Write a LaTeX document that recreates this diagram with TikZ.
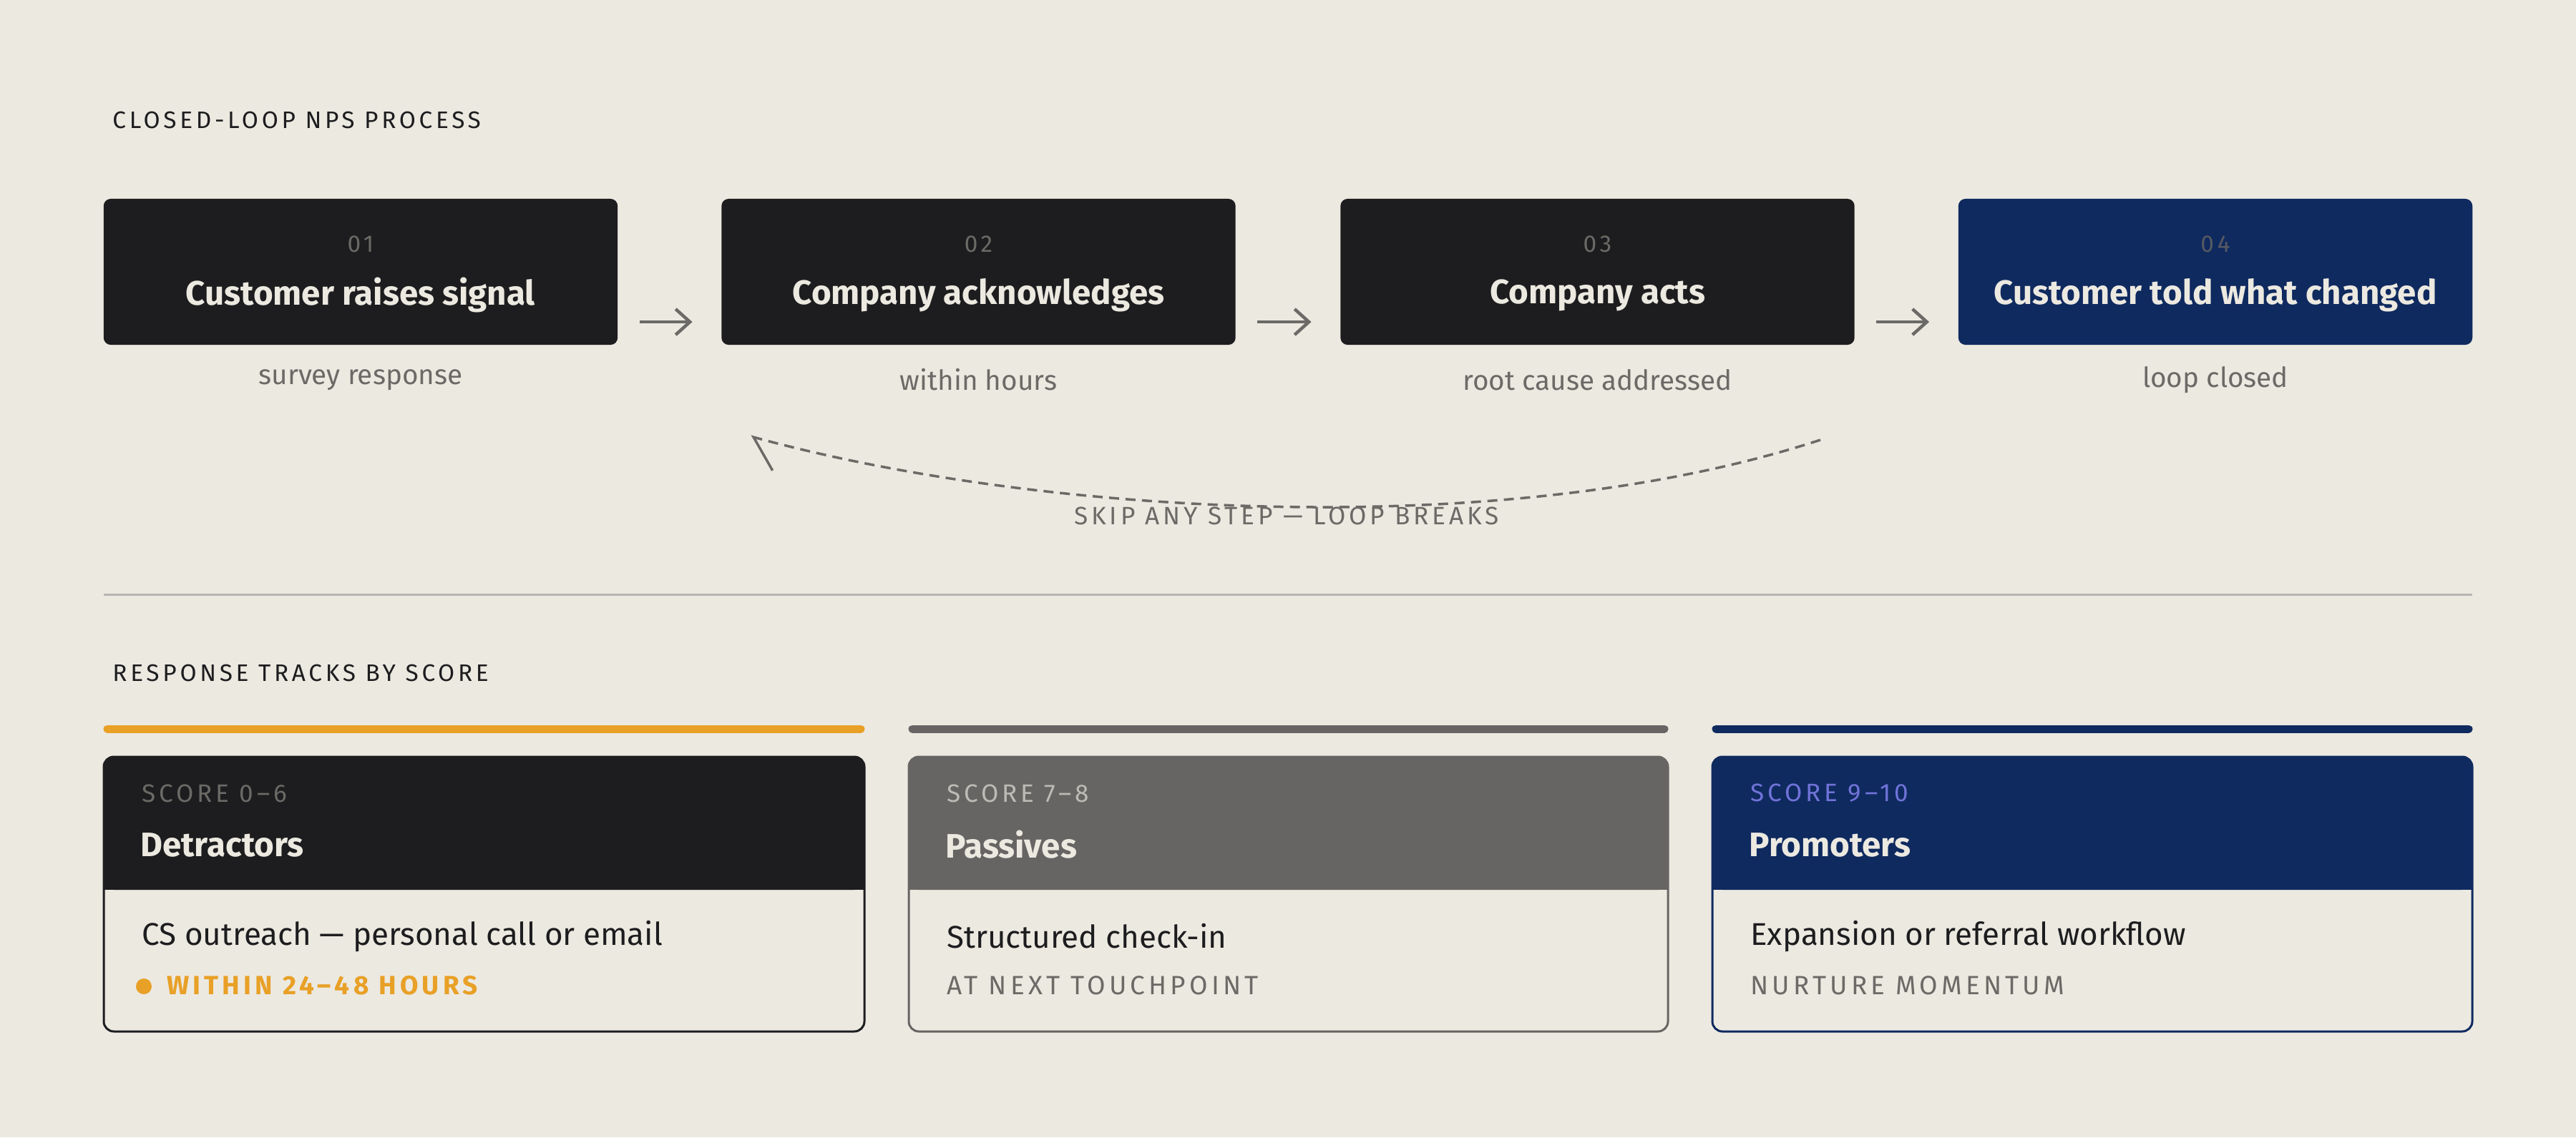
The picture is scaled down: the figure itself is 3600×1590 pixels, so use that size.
\documentclass[tikz,border=0pt]{standalone}
\usepackage{fontspec}
\setmainfont{Fira Sans}
\usetikzlibrary{arrows.meta,positioning}
\definecolor{paper}{HTML}{ECE9E1}
\definecolor{ink}{HTML}{1D1D1F}
\definecolor{navy}{HTML}{0F2A5F}
\definecolor{amber}{HTML}{E8A026}
\definecolor{slate}{HTML}{666563}
\definecolor{muted}{HTML}{6B6A66}
\colorlet{passlab}{paper!65!slate}
\colorlet{promlab}{blue!45!paper!85!navy}
\newcommand{\spaced}[1]{{\addfontfeatures{LetterSpace=14}#1}}
\tikzset{
  stagebox/.style={rounded corners=0.1cm,minimum width=7.18cm,minimum height=2.04cm,fill=ink},
  num/.style={text=muted,font=\fontsize{9.5}{11}\selectfont},
  ttl/.style={text=paper,font=\fontsize{13.5}{16}\selectfont\bfseries},
  sub/.style={text=muted,font=\fontsize{11}{13}\selectfont},
  head/.style={anchor=west,text=ink,font=\fontsize{9.5}{11}\selectfont},
  flow/.style={-{Straight Barb[length=0.2cm,width=0.36cm]},muted,line width=0.045cm},
}
\begin{document}
\begin{tikzpicture}[x=0.01cm,y=-0.01cm]
\fill[paper] (0,0) rectangle (3600,1590);
\node[head] (phead) at (145,168) {\spaced{CLOSED-LOOP NPS PROCESS}};
% steps
\node[stagebox] (s1) at (504,380) {};
\node[stagebox] (s2) at (1367.5,380) {};
\node[stagebox] (s3) at (2232.5,380) {};
\node[stagebox,fill=navy] (s4) at (3096,380) {};
\node[num] at (504,341) {\spaced{01}};
\node[num] at (1367.5,341) {\spaced{02}};
\node[num] at (2232.5,341) {\spaced{03}};
\node[num,text=slate!80!navy] at (3096,341) {\spaced{04}};
\node[ttl] (t1) at (504,413) {Customer raises signal};
\node[ttl] (t2) at (1367.5,413) {Company acknowledges};
\node[ttl] (t3) at (2232.5,413) {Company acts};
\node[ttl] (t4) at (3096,413) {Customer told what changed};
\node[sub] (d1) at (504,531) {survey response};
\node[sub] (d2) at (1367.5,531) {within hours};
\node[sub] (d3) at (2232.5,531) {root cause addressed};
\node[sub] (d4) at (3096,531) {loop closed};
\draw[flow] ([xshift=0.3cm,yshift=-0.7cm]s1.east) -- ([xshift=-0.4cm,yshift=-0.7cm]s2.west);
\draw[flow] ([xshift=0.3cm,yshift=-0.7cm]s2.east) -- ([xshift=-0.4cm,yshift=-0.7cm]s3.west);
\draw[flow] ([xshift=0.3cm,yshift=-0.7cm]s3.east) -- ([xshift=-0.4cm,yshift=-0.7cm]s4.west);
% loop back
\coordinate (lb1) at (2544,615);
\coordinate (lb2) at (1049,610);
\draw[muted,line width=0.035cm,dash pattern=on 0.14cm off 0.09cm,-{Straight Barb[left,length=0.38cm,width=0.76cm]}]
  (lb1) .. controls (2100,760) and (1450,720) .. (lb2);
\node[sub,font=\fontsize{10}{12}\selectfont] (skip) at (1798,721) {\spaced{SKIP ANY STEP — LOOP BREAKS}};
\draw[muted!50,line width=0.03cm] (145,831) -- (3455,831);
\node[head] (thead) at (145,941) {\spaced{RESPONSE TRACKS BY SCORE}};
% tracks
\foreach \xa/\xb/\col/\bar/\lab/\labc/\name/\body/\note/\notec/\nx [count=\i] in {
  145/1208/ink/amber/SCORE 0–6/muted/Detractors/CS outreach — personal call or email/\textbf{WITHIN 24–48 HOURS}/amber/76,
  1270/2331/slate/slate/SCORE 7–8/passlab/Passives/Structured check-in/AT NEXT TOUCHPOINT/muted/41,
  2393/3455/navy/navy/SCORE 9–10/promlab/Promoters/Expansion or referral workflow/NURTURE MOMENTUM/muted/41}{
  \draw[line width=0.11cm,line cap=round,draw=\bar] (\xa+5,1019) -- (\xb-5,1019);
  \fill[\col,rounded corners=0.14cm] (\xa,1058) rectangle (\xb,1244);
  \fill[\col] (\xa,1200) rectangle (\xb,1244);
  \draw[\col,line width=0.03cm,rounded corners=0.14cm] (\xa,1058) rectangle (\xb,1442);
  \node[anchor=west,text=\labc,font=\fontsize{10}{12}\selectfont] (lab\i) at (\xa+41,1109) {\spaced{\lab}};
  \node[anchor=west,text=paper,font=\fontsize{13.5}{16}\selectfont\bfseries] (nm\i) at (\xa+39,1181) {\name};
  \node[anchor=west,text=ink,font=\fontsize{12.5}{15}\selectfont] (bd\i) at (\xa+41,1309) {\body};
  \node[anchor=west,text=\notec,font=\fontsize{10.5}{12}\selectfont] (nt\i) at (\xa+\nx,1378) {\spaced{\note}};
}
\fill[amber] (201,1379) circle (0.11cm);
\end{tikzpicture}
\end{document}
